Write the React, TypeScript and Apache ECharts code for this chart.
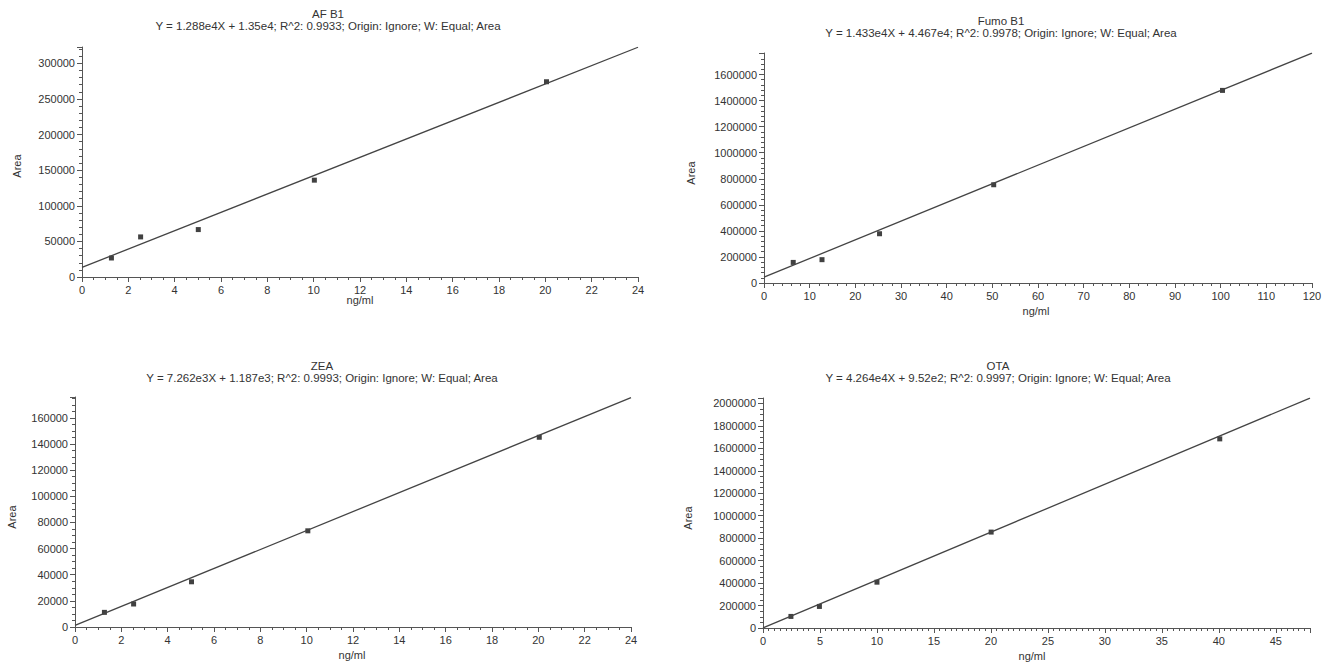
import React, { useEffect, useRef } from "react";
import * as echarts from "echarts";

// ---- data ----
const panelNames = ["AF B1", "Fumo B1", "ZEA", "OTA"];
const equations = [
  "Y = 1.288e4X + 1.35e4; R^2: 0.9933; Origin: Ignore; W: Equal; Area",
  "Y = 1.433e4X + 4.467e4; R^2: 0.9978; Origin: Ignore; W: Equal; Area",
  "Y = 7.262e3X + 1.187e3; R^2: 0.9993; Origin: Ignore; W: Equal; Area",
  "Y = 4.264e4X + 9.52e2; R^2: 0.9997; Origin: Ignore; W: Equal; Area",
];
const xAxisName = "ng/ml";
const yAxisName = "Area";

const afX = [1.27, 2.53, 5.02, 10.03, 20.05];
const afY = [26700, 56300, 66600, 136000, 274200];
const fumoX = [6.4, 12.7, 25.3, 50.3, 100.4];
const fumoY = [158000, 179000, 378000, 754000, 1478000];
const zeaX = [1.27, 2.53, 5.03, 10.05, 20.04];
const zeaY = [11200, 17600, 34600, 73600, 145200];
const otaX = [2.45, 4.95, 10.0, 20.02, 40.08];
const otaY = [103000, 192000, 408000, 854000, 1684000];

// calibration (fit) lines: [x, y] end points
const afFit = [[0, 13500], [24, 322620]];
const fumoFit = [[0, 44670], [120, 1764270]];
const zeaFit = [[0, 1187], [24, 175475]];
const otaFit = [[0, 952], [48, 2047672]];

const xTickStep = [2, 10, 2, 5];
const yTickStep = [50000, 200000, 20000, 200000];
const xMaxes = [24, 120, 24, 48];
const yMaxes = [323000, 1765000, 176000, 2048000];

const pointsX = [afX, fumoX, zeaX, otaX];
const pointsY = [afY, fumoY, zeaY, otaY];
const fits = [afFit, fumoFit, zeaFit, otaFit];

// ---- layout ----
const layout = [
  { left: 82, top: 47, width: 556, height: 230, tX: 328, tY: 14, eY: 26, xnX: 360, xnY: 300, ynX: 17, ynY: 166, xMinor: 4, yMinor: 5 },
  { left: 764, top: 53, width: 548, height: 230, tX: 1001, tY: 21, eY: 33, xnX: 1036, xnY: 311, ynX: 691, ynY: 173, xMinor: 5, yMinor: 5 },
  { left: 75, top: 397, width: 556, height: 230, tX: 322, tY: 366, eY: 378, xnX: 352, xnY: 655, ynX: 12, ynY: 517, xMinor: 4, yMinor: 4 },
  { left: 763, top: 398, width: 547, height: 230, tX: 998, tY: 366, eY: 378, xnX: 1032, xnY: 656, ynX: 688, ynY: 518, xMinor: 10, yMinor: 4 },
];

const FONT = "'Liberation Sans', Arial, sans-serif";
const TXT = "#333";
const AXIS = "#555";

function buildOption() {
  const grid: any[] = [];
  const xAxis: any[] = [];
  const yAxis: any[] = [];
  const series: any[] = [];
  const graphic: any[] = [];

  layout.forEach((L, i) => {
    grid.push({ left: L.left, top: L.top, width: L.width, height: L.height, containLabel: false });
    const xs = xTickStep[i];
    const ys = yTickStep[i];
    xAxis.push({
      type: "value",
      gridIndex: i,
      min: 0,
      max: xMaxes[i],
      interval: xs,
      axisLine: { show: true, onZero: false, lineStyle: { color: AXIS, width: 1 } },
      axisTick: { show: true, length: 5, lineStyle: { color: AXIS } },
      minorTick: { show: true, splitNumber: L.xMinor, length: 3, lineStyle: { color: AXIS } },
      splitLine: { show: false },
      axisLabel: {
        color: TXT,
        fontFamily: FONT,
        fontSize: 11,
        margin: 7,
        formatter: (v: number) => (Math.abs(v / xs - Math.round(v / xs)) < 1e-9 ? String(v) : ""),
      },
    });
    yAxis.push({
      type: "value",
      gridIndex: i,
      min: 0,
      max: yMaxes[i],
      interval: ys,
      axisLine: { show: true, onZero: false, lineStyle: { color: AXIS, width: 1 } },
      axisTick: { show: true, length: 5, lineStyle: { color: AXIS } },
      minorTick: { show: true, splitNumber: L.yMinor, length: 3, lineStyle: { color: AXIS } },
      splitLine: { show: false },
      axisLabel: {
        color: TXT,
        fontFamily: FONT,
        fontSize: 11,
        margin: 7,
        formatter: (v: number) => (Math.abs(v / ys - Math.round(v / ys)) < 1e-9 ? String(v) : ""),
      },
    });
    series.push({
      type: "line",
      xAxisIndex: i,
      yAxisIndex: i,
      data: fits[i],
      showSymbol: false,
      symbol: "none",
      lineStyle: { color: "#444", width: 1.3 },
      clip: true,
      silent: true,
    });
    series.push({
      type: "scatter",
      xAxisIndex: i,
      yAxisIndex: i,
      data: pointsX[i].map((x, k) => [x, pointsY[i][k]]),
      symbol: "rect",
      symbolSize: 5,
      itemStyle: { color: "#111" },
    });
    graphic.push(
      { type: "text", x: L.tX, y: L.tY, style: { text: panelNames[i], fill: TXT, font: `11.5px ${FONT}`, textAlign: "center", textVerticalAlign: "middle" } },
      { type: "text", x: L.tX, y: L.eY, style: { text: equations[i], fill: TXT, font: `11.5px ${FONT}`, textAlign: "center", textVerticalAlign: "middle" } },
      { type: "text", x: L.xnX, y: L.xnY, style: { text: xAxisName, fill: TXT, font: `11px ${FONT}`, textAlign: "center", textVerticalAlign: "middle" } },
      { type: "text", x: L.ynX, y: L.ynY, rotation: Math.PI / 2, style: { text: yAxisName, fill: TXT, font: `11px ${FONT}`, textAlign: "center", textVerticalAlign: "middle" } }
    );
  });

  return {
    animation: false,
    backgroundColor: "#ffffff",
    grid,
    xAxis,
    yAxis,
    series,
    graphic,
  };
}

export default function App() {
  const ref = useRef<HTMLDivElement>(null);
  useEffect(() => {
    document.body.style.margin = "0";
    const chart = echarts.init(ref.current!, undefined, { renderer: "svg" });
    chart.setOption(buildOption() as any);
    return () => chart.dispose();
  }, []);
  return <div ref={ref} style={{ width: 1330, height: 664, position: "absolute", left: 0, top: 0 }} />;
}
